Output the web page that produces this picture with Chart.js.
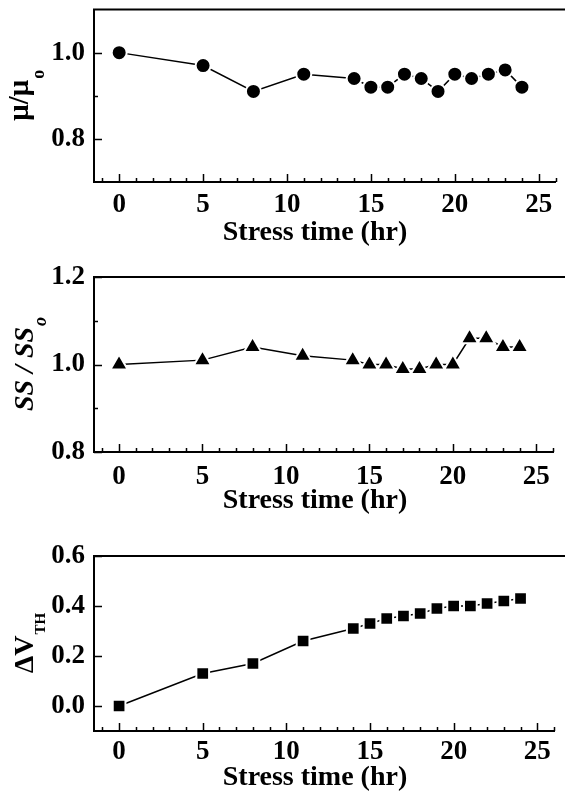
<!DOCTYPE html>
<html>
<head>
<meta charset="utf-8">
<script src="https://cdn.jsdelivr.net/npm/chart.js@4"></script>
<style>
  body { margin: 0; background: #fff; }
  .panel { position: absolute; left: 0; width: 565px; }
</style>
</head>
<body>
<div class="panel" style="top:0px"><canvas id="muChart" width="565" height="262"></canvas></div>
<div class="panel" style="top:262px"><canvas id="ssChart" width="565" height="268"></canvas></div>
<div class="panel" style="top:530px"><canvas id="vthChart" width="565" height="268"></canvas></div>
<script>
// data
const stressTime = [0, 5, 8, 11, 14, 15, 16, 17, 18, 19, 20, 21, 22, 23, 24];
const mobilityRatio = [1.00, 0.97, 0.91, 0.95, 0.94, 0.92, 0.92, 0.95, 0.94, 0.91, 0.95, 0.94, 0.95, 0.96, 0.92];
const swingRatio = [1.00, 1.01, 1.04, 1.02, 1.01, 1.00, 1.00, 0.99, 0.99, 1.00, 1.00, 1.06, 1.06, 1.04, 1.04];
const deltaVth = [0.00, 0.13, 0.17, 0.26, 0.31, 0.33, 0.35, 0.36, 0.37, 0.39, 0.40, 0.40, 0.41, 0.42, 0.43];

const xTicks = [0, 5, 10, 15, 20, 25];
const muTicks = [0.8, 1.0];
const ssTicks = [0.8, 1.0, 1.2];
const vthTicks = [0.0, 0.2, 0.4, 0.6];
const xTitle = 'Stress time (hr)';

const serif = '"Liberation Serif", "Times New Roman", serif';

// frame top line, inward ticks, axis titles with subscripts
const panelDeco = {
    id: 'panelDeco',
    afterDraw(chart, args, opts) {
        const ctx = chart.ctx;
        const a = chart.chartArea;
        const xs = chart.scales.x;
        const ys = chart.scales.y;
        ctx.save();
        ctx.strokeStyle = '#000';
        ctx.fillStyle = '#000';
        ctx.lineWidth = 2;
        ctx.beginPath();
        ctx.moveTo(a.left - 1, a.top);
        ctx.lineTo(chart.width, a.top);
        ctx.stroke();

        ctx.lineWidth = 1.5;
        ctx.beginPath();
        for (let v = Math.ceil(xs.min); v <= xs.max; v++) {
            const px = Math.round(xs.getPixelForValue(v)) + 0.5;
            const len = v % 5 === 0 ? 8 : 4;
            ctx.moveTo(px, a.bottom);
            ctx.lineTo(px, a.bottom - len);
        }
        opts.majorY.forEach(v => {
            const py = Math.round(ys.getPixelForValue(v)) + 0.5;
            ctx.moveTo(a.left, py);
            ctx.lineTo(a.left + 8, py);
        });
        (opts.minorY || []).forEach(v => {
            const py = Math.round(ys.getPixelForValue(v)) + 0.5;
            ctx.moveTo(a.left, py);
            ctx.lineTo(a.left + 4, py);
        });
        ctx.stroke();

        // x title
        ctx.font = 'bold 28px ' + serif;
        ctx.textAlign = 'center';
        ctx.textBaseline = 'middle';
        ctx.fillText(xTitle, a.left + 221, a.bottom + opts.xTitleOffset);

        // y title (rotated, with subscript)
        const t = opts.yTitle;
        ctx.font = t.mainFont;
        const wMain = ctx.measureText(t.main).width;
        ctx.font = t.subFont;
        const wSub = ctx.measureText(t.sub).width;
        const total = wMain + wSub;
        ctx.translate(t.baseX, (a.top + a.bottom) / 2);
        ctx.rotate(-Math.PI / 2);
        ctx.textAlign = 'left';
        ctx.textBaseline = 'alphabetic';
        ctx.font = t.mainFont;
        ctx.fillText(t.main, -total / 2, 0);
        ctx.font = t.subFont;
        ctx.fillText(t.sub, -total / 2 + wMain + 1, t.subDrop);
        ctx.restore();
    }
};

function makePanel(id, cfg) {
    const canvas = document.getElementById(id);
    const H = canvas.height;
    return new Chart(canvas.getContext('2d'), {
        type: 'line',
        data: {
            datasets: [{
                data: stressTime.map((t, i) => ({ x: t, y: cfg.values[i] })),
                borderColor: '#000',
                borderWidth: 1.5,
                tension: 0,
                pointStyle: cfg.pointStyle,
                pointRadius: cfg.pointRadius,
                pointBackgroundColor: '#000',
                pointBorderColor: '#fff',
                pointBorderWidth: 2,
                clip: false
            }]
        },
        options: {
            responsive: false,
            animation: false,
            layout: { padding: { top: cfg.plotTop, left: 0, right: 0, bottom: 0 } },
            plugins: {
                legend: { display: false },
                tooltip: { enabled: false },
                panelDeco: cfg.deco
            },
            scales: {
                x: {
                    type: 'linear',
                    min: -1.5,
                    max: 26,
                    afterBuildTicks: s => { s.ticks = xTicks.map(v => ({ value: v })); },
                    afterFit: s => { s.height = H - cfg.plotBottom; s.paddingLeft = 0; s.paddingRight = 0; },
                    grid: { display: false, drawTicks: false },
                    border: { display: true, color: '#000', width: 2 },
                    ticks: {
                        color: '#000',
                        padding: cfg.xPad,
                        maxRotation: 0,
                        font: { family: serif, size: 27, weight: 'bold' }
                    }
                },
                y: {
                    min: cfg.yMin,
                    max: cfg.yMax,
                    afterBuildTicks: s => { s.ticks = cfg.yTicks.map(v => ({ value: v })); },
                    afterFit: s => { s.width = 94; s.paddingTop = 0; s.paddingBottom = 0; },
                    grid: { display: false, drawTicks: false },
                    border: { display: true, color: '#000', width: 2 },
                    ticks: {
                        color: '#000',
                        padding: 9,
                        font: { family: serif, size: 27, weight: 'bold' },
                        callback: v => Number(v).toFixed(1)
                    }
                }
            }
        },
        plugins: [panelDeco]
    });
}

makePanel('muChart', {
    values: mobilityRatio, pointStyle: 'circle', pointRadius: 7.5,
    plotTop: 7, plotBottom: 182, yMin: 0.7, yMax: 1.1, yTicks: muTicks, xPad: 7,
    deco: {
        majorY: muTicks, minorY: [0.9], xTitleOffset: 51,
        yTitle: { main: 'μ/μ', sub: 'o', mainFont: 'bold 29px ' + serif, subFont: 'bold 18px ' + serif, baseX: 28, subDrop: 16 }
    }
});

makePanel('ssChart', {
    values: swingRatio, pointStyle: 'triangle', pointRadius: 10,
    plotTop: 15, plotBottom: 190, yMin: 0.8, yMax: 1.2, yTicks: ssTicks, xPad: 9,
    deco: {
        majorY: ssTicks, minorY: [0.9, 1.1], xTitleOffset: 49,
        yTitle: { main: 'SS / SS', sub: 'o', mainFont: 'italic bold 28px ' + serif, subFont: 'italic bold 18px ' + serif, baseX: 33, subDrop: 13 }
    }
});

makePanel('vthChart', {
    values: deltaVth, pointStyle: 'rect', pointRadius: 9,
    plotTop: 26, plotBottom: 201, yMin: -0.1, yMax: 0.6, yTicks: vthTicks, xPad: 5,
    deco: {
        majorY: vthTicks, minorY: [], xTitleOffset: 47,
        yTitle: { main: 'ΔV', sub: 'TH', mainFont: 'bold 28px ' + serif, subFont: 'bold 15px ' + serif, baseX: 33, subDrop: 12 }
    }
});
</script>
</body>
</html>
